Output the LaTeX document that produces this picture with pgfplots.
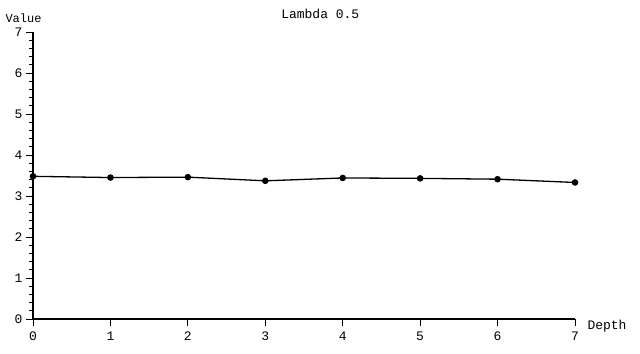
\documentclass[border=0pt]{standalone}
\usepackage{pgfplots}
\pgfplotsset{compat=1.18}
\usepackage{fontspec}
\setmainfont{Liberation Mono}
\begin{document}
\begin{tikzpicture}
\begin{axis}[
  scale only axis, width=542pt, height=287pt,
  xmin=0, xmax=7, ymin=0, ymax=7,
  axis lines=left, axis line style={-, line width=1.1pt},
  xtick={0,...,7}, ytick={0,...,7},
  minor y tick num=4,
  tick align=outside,
  major tick length=7pt, minor tick length=4pt,
  every tick/.style={black, line width=0.9pt},
  tick label style={font=\fontsize{13}{15}\selectfont},
  xticklabel style={yshift=-2pt},
  /pgf/number format/assume math mode=true,
  title={Lambda 0.5},
  title style={at={(rel axis cs:0.53,1)}, anchor=south, yshift=4pt, font=\fontsize{13}{15}\selectfont},
  xlabel={Depth},
  xlabel style={at={(rel axis cs:1,0)}, anchor=west, xshift=9pt, yshift=-7pt, font=\fontsize{13}{15}\selectfont},
  ylabel={Value},
  ylabel style={at={(rel axis cs:0,1)}, rotate=-90, anchor=south west, xshift=-31pt, yshift=6pt, font=\fontsize{12}{14}\selectfont},
  clip=false,
]
\addplot[black, line width=1.3pt, mark=*, mark size=2.6pt] coordinates {
 (0,3.48) (1,3.45) (2,3.46) (3,3.37) (4,3.44) (5,3.43) (6,3.41) (7,3.33)
};
\end{axis}
\path (current axis.south west) ++(-33pt,-35pt);
\path (current axis.north east) ++(65pt,32pt);
\end{tikzpicture}
\end{document}
